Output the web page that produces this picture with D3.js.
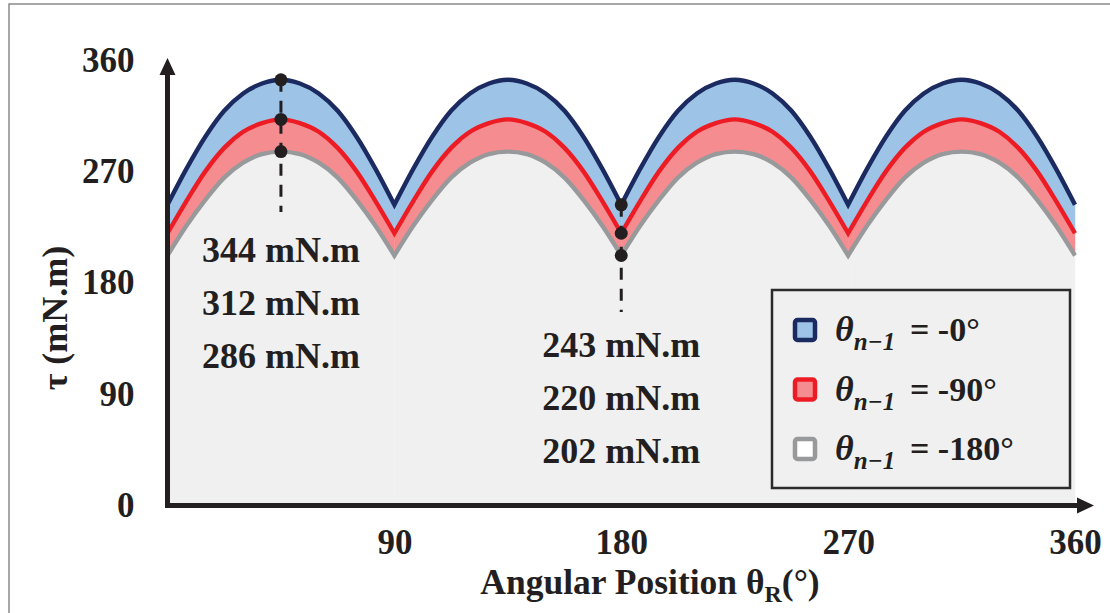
<!DOCTYPE html>
<html>
<head>
<meta charset="utf-8">
<script src="https://cdn.jsdelivr.net/npm/d3@7"></script>
<style>
  html, body { margin: 0; padding: 0; background: #fff; }
  svg text { font-family: "Liberation Serif", "Times New Roman", serif; font-weight: bold; fill: #231F20; }
</style>
</head>
<body>
<div id="chart"></div>
<script>
// angle (deg) samples along the rotor position
const angles = [0, 7.5, 15, 22.5, 30, 37.5, 45, 52.5, 60, 67.5, 75, 82.5,
  90, 97.5, 105, 112.5, 120, 127.5, 135, 142.5, 150, 157.5, 165, 172.5,
  180, 187.5, 195, 202.5, 210, 217.5, 225, 232.5, 240, 247.5, 255, 262.5,
  270, 277.5, 285, 292.5, 300, 307.5, 315, 322.5, 330, 337.5, 345, 352.5, 360];

// torque (mN.m), theta_{n-1} = -0
const torque0 = [243, 272, 298, 319, 333, 341, 344, 341, 333, 319, 298, 272,
  243, 272, 298, 319, 333, 341, 344, 341, 333, 319, 298, 272,
  243, 272, 298, 319, 333, 341, 344, 341, 333, 319, 298, 272,
  243, 272, 298, 319, 333, 341, 344, 341, 333, 319, 298, 272, 243];

// theta_{n-1} = -90
const torque90 = [220, 246, 270, 289, 302, 309, 312, 309, 302, 289, 270, 246,
  220, 246, 270, 289, 302, 309, 312, 309, 302, 289, 270, 246,
  220, 246, 270, 289, 302, 309, 312, 309, 302, 289, 270, 246,
  220, 246, 270, 289, 302, 309, 312, 309, 302, 289, 270, 246, 220];

// theta_{n-1} = -180
const torque180 = [202, 226, 247, 265, 277, 284, 286, 284, 277, 265, 247, 226,
  202, 226, 247, 265, 277, 284, 286, 284, 277, 265, 247, 226,
  202, 226, 247, 265, 277, 284, 286, 284, 277, 265, 247, 226,
  202, 226, 247, 265, 277, 284, 286, 284, 277, 265, 247, 226, 202];

const legendLabels = ["-0°", "-90°", "-180°"];
const xTicks = [90, 180, 270, 360];
const yTicks = [0, 90, 180, 270, 360];
const annotAngles = [45, 180];

const W = 1110, H = 613;
const lineColors = ["#1B2A60", "#ED1C24", "#97999B"];
const fillColors = ["#9DC3E6", "#F48C90", "#F0F0F0"];
const ink = "#231F20";

const svg = d3.select("#chart").append("svg")
  .attr("width", W).attr("height", H);

// outer frame (top + left only)
svg.append("path")
  .attr("d", `M9,${H} L9,4 L${W},4`)
  .attr("fill", "none").attr("stroke", "#8a8a8a").attr("stroke-width", 1.5);

const x = d3.scaleLinear().domain([0, 360]).range([167.5, 1075]);
const y = d3.scaleLinear().domain([0, 360]).range([505.5, 60]);

const series = [torque0, torque90, torque180];

// split into arches between valleys so the cusps stay sharp
const valleyIdx = angles.map((a, i) => a % 90 === 0 ? i : -1).filter(i => i >= 0);
const arches = d3.pairs(valleyIdx).map(([a, b]) => d3.range(a, b + 1));

function joinPaths(parts) {
  return parts.map((p, i) => i === 0 ? p : "L" + p.slice(1)).join("");
}

// gray area under lowest curve
arches.forEach(idx => {
  const area = d3.area().curve(d3.curveMonotoneX)
    .x(i => x(angles[i])).y0(y(0)).y1(i => y(torque180[i]));
  svg.append("path").attr("d", area(idx)).attr("fill", fillColors[2])
    .attr("stroke", fillColors[2]).attr("stroke-width", 0.5);
});

// bands between curves
[[torque90, torque180, fillColors[1]], [torque0, torque90, fillColors[0]]].forEach(([hi, lo, col]) => {
  arches.forEach(idx => {
    const area = d3.area().curve(d3.curveMonotoneX)
      .x(i => x(angles[i])).y0(i => y(lo[i])).y1(i => y(hi[i]));
    svg.append("path").attr("d", area(idx)).attr("fill", col)
      .attr("stroke", col).attr("stroke-width", 0.5);
  });
});

// curves, bottom first
[2, 1, 0].forEach(k => {
  const line = d3.line().curve(d3.curveMonotoneX)
    .x(i => x(angles[i])).y(i => y(series[k][i]));
  svg.append("path")
    .attr("d", joinPaths(arches.map(idx => line(idx))))
    .attr("fill", "none")
    .attr("stroke", lineColors[k])
    .attr("stroke-width", 4.4)
    .attr("stroke-linejoin", "miter");
});

// annotations
const annotLayout = [{ dashTo: 212, labelY: 262 }, { dashTo: 312, labelY: 357 }];
annotAngles.forEach((ang, j) => {
  const i = angles.indexOf(ang);
  const vals = series.map(s => s[i]);
  const cx = x(ang);
  svg.append("line")
    .attr("x1", cx).attr("x2", cx)
    .attr("y1", y(vals[0])).attr("y2", annotLayout[j].dashTo)
    .attr("stroke", ink).attr("stroke-width", 3)
    .attr("stroke-dasharray", "12,9");
  vals.forEach((v, k) => {
    svg.append("circle").attr("cx", cx).attr("cy", y(v)).attr("r", 6.5).attr("fill", ink);
    svg.append("text")
      .attr("x", cx).attr("y", annotLayout[j].labelY + k * 53)
      .attr("text-anchor", "middle")
      .style("font-size", "36px")
      .text(`${v} mN.m`);
  });
});

// axes
const yAxis = d3.axisLeft(y).tickValues(yTicks).tickSize(0).tickPadding(33);
const gy = svg.append("g").attr("transform", `translate(${x(0)},0)`).call(yAxis);
gy.select(".domain").remove();
gy.selectAll("text").style("font-size", "35px").attr("fill", ink)
  .style("font-family", "'Liberation Serif', serif").style("font-weight", "bold");

const xAxis = d3.axisBottom(x).tickValues(xTicks).tickSize(0).tickPadding(24);
const gx = svg.append("g").attr("transform", `translate(0,${y(0)})`).call(xAxis);
gx.select(".domain").remove();
gx.selectAll("text").style("font-size", "35px").attr("fill", ink)
  .style("font-family", "'Liberation Serif', serif").style("font-weight", "bold");

// axis lines with arrow heads
const x0 = x(0), y0 = y(0);
svg.append("line").attr("x1", x0).attr("x2", x0).attr("y1", y0 + 2.5).attr("y2", 70)
  .attr("stroke", ink).attr("stroke-width", 5);
svg.append("path").attr("d", `M${x0},58 L${x0 - 8},75 L${x0 + 8},75 Z`).attr("fill", ink);
svg.append("line").attr("x1", x0 - 2.5).attr("x2", 1080).attr("y1", y0).attr("y2", y0)
  .attr("stroke", ink).attr("stroke-width", 5);
svg.append("path").attr("d", `M1094,${y0} L1077,${y0 - 8} L1077,${y0 + 8} Z`).attr("fill", ink);

// axis titles
const xt = svg.append("text")
  .attr("x", 650).attr("y", 594)
  .attr("text-anchor", "middle")
  .style("font-size", "35.5px");
xt.append("tspan").text("Angular Position θ");
xt.append("tspan").attr("dy", 8).style("font-size", "24px").text("R");
xt.append("tspan").attr("dy", -8).text("(°)");

svg.append("text")
  .attr("transform", "translate(67,318) rotate(-90)")
  .attr("text-anchor", "middle")
  .style("font-size", "36px")
  .text("τ (mN.m)");

// legend
const lg = svg.append("g");
lg.append("rect")
  .attr("x", 772).attr("y", 290).attr("width", 298).attr("height", 198)
  .attr("fill", "#F0F0F0").attr("stroke", "#2b2b2b").attr("stroke-width", 2.5);

legendLabels.forEach((lab, k) => {
  const cy = 330 + k * 59.5;
  lg.append("rect")
    .attr("x", 795).attr("y", cy - 10).attr("width", 20).attr("height", 20)
    .attr("rx", 2.5)
    .attr("fill", k === 2 ? "#ffffff" : fillColors[k])
    .attr("stroke", lineColors[k]).attr("stroke-width", 4.5);
  const t = lg.append("text").attr("x", 835).attr("y", cy + 11).style("font-size", "36px");
  t.append("tspan").style("font-style", "italic").text("θ");
  t.append("tspan").attr("dy", 9).style("font-size", "25px").style("font-style", "italic").text("n−1");
  t.append("tspan").attr("x", 910).attr("dy", -9).style("font-size", "34px").text("= " + lab);
});
</script>
</body>
</html>
